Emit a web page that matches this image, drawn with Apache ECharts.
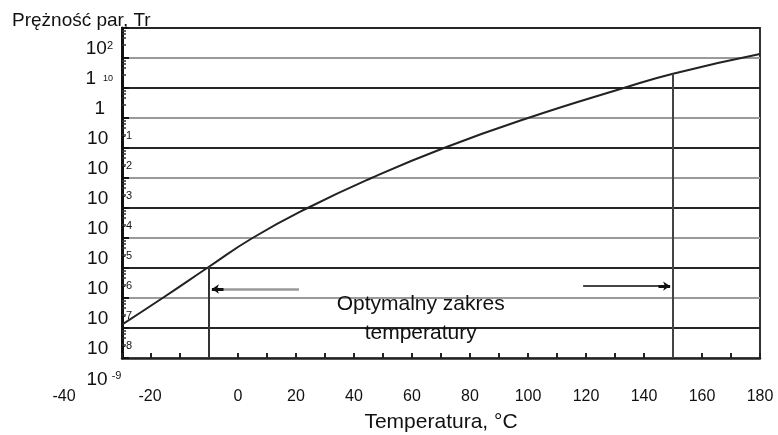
<!DOCTYPE html>
<html>
<head>
<meta charset="utf-8">
<script src="https://cdn.jsdelivr.net/npm/echarts@6/dist/echarts.min.js"></script>
<style>
  html, body { margin: 0; padding: 0; background: #fff; }
  #main { width: 778px; height: 435px; }
</style>
</head>
<body>
<div id="main"></div>
<script>
// krzywa prężności par
const temps = [-40, -26, -10, 5, 24, 46, 71, 100, 133, 150, 180]
const pressures = [1.3e-7, 1e-6, 1.1e-5, 1e-4, 1e-3, 1e-2, 1e-1, 1, 10, 30, 135]

// granice optymalnego zakresu (indeksy w temps)
const rangeIdx = [2, 9]

// strzałki zakresu: [od, do, poziom]
const arrowLeft = [21, -9, 2e-6]
const arrowRight = [119, 149, 2.5e-6]

const rangeText = 'Optymalny zakres\ntemperatury'
const rangeTextAt = [63, 2.1e-7]

// etykiety osi Y: wykładnik -> podstawa / indeks górny
const yExps = [-8, -7, -6, -5, -4, -3, -2, -1, 0, 1, 2]
const yBase = ['10', '10', '10', '10', '10', '10', '10', '10', '1', '1', '10']
const ySup = ['-8', '-7', '-6', '-5', '-4', '-3', '-2', '-1', '', '10', '2']
const yBottomLabel = ['10', '-9']

const xMin = -40
const xMax = 180
const yMin = 1e-8
const yMax = 1e3

const FONT = 'Liberation Sans'

function yLabel (v) {
  const e = Math.round(Math.log10(v))
  const i = yExps.indexOf(e)
  if (i < 0) return ''
  const b = yBase[i]
  const s = ySup[i]
  if (e === 0) return '{b|' + b + '}{t27|}'
  if (e === 1) return '{b|' + b + '}{g7|}{s2|' + s + '}{t19|}'
  if (e === 2) return '{b|' + b + '}{s|' + s + '}{t19|}'
  return '{b|' + b + '}{g14|}{s|' + s + '}'
}

function xLabel (v) {
  // dwie pierwsze etykiety są przesunięte w lewo jak w oryginale
  if (v === -40) return '{sh58|' + v + '}'
  if (v === -20) return '{sh30|' + v + '}'
  return '{n|' + v + '}'
}

const curve = temps.map((t, i) => [t, pressures[i]])

const option = {
  animation: false,
  textStyle: { fontFamily: FONT },
  title: {
    text: 'Prężność par, Tr',
    left: 7,
    top: 6,
    textStyle: { fontFamily: FONT, fontSize: 19, fontWeight: 'normal', color: '#111' }
  },
  grid: {
    left: 122,
    right: 18,
    top: 28,
    bottom: 77,
    outerBoundsMode: 'none',
    show: true,
    borderColor: '#333',
    borderWidth: 2,
    backgroundColor: 'transparent'
  },
  xAxis: {
    type: 'value',
    min: xMin,
    max: xMax,
    interval: 20,
    name: 'Temperatura, °C',
    nameLocation: 'middle',
    nameGap: 54,
    nameTextStyle: { fontFamily: FONT, fontSize: 21, color: '#111' },
    axisLine: { lineStyle: { color: '#222', width: 2.5 } },
    axisTick: { inside: true, length: 5, lineStyle: { color: '#222', width: 2 } },
    minorTick: { show: true, splitNumber: 2, length: 5, lineStyle: { color: '#222', width: 2 } },
    splitLine: { show: false },
    axisLabel: {
      margin: 31,
      color: '#111',
      formatter: xLabel,
      rich: {
        n: { fontFamily: FONT, fontSize: 16, color: '#111' },
        sh58: { fontFamily: FONT, fontSize: 16, color: '#111', padding: [0, 116, 0, 0] },
        sh30: { fontFamily: FONT, fontSize: 16, color: '#111', padding: [0, 60, 0, 0] }
      }
    }
  },
  yAxis: {
    type: 'log',
    logBase: 10,
    min: yMin,
    max: yMax,
    interval: 1,
    name: '{b|' + yBottomLabel[0] + '}{g4|}{s|' + yBottomLabel[1] + '}{t36|}',
    nameLocation: 'start',
    nameGap: 12,
    nameMoveOverlap: false,
    nameTextStyle: {
      verticalAlign: 'top',
      rich: {
        b: { fontFamily: FONT, fontSize: 19, color: '#111', lineHeight: 20 },
        s: { fontFamily: FONT, fontSize: 11, color: '#111', verticalAlign: 'top', lineHeight: 20 },
        g4: { width: 4 },
        t36: { width: 36 }
      }
    },
    axisLine: { show: true, onZero: false, lineStyle: { color: '#111', width: 3 } },
    axisTick: { show: true, inside: true, length: 7, lineStyle: { color: '#111', width: 2 } },
    minorTick: { show: true, splitNumber: 5, length: 4, lineStyle: { color: '#333', width: 1.5 } },
    splitLine: {
      show: true,
      lineStyle: { color: ['#9a9a9a', '#262626'], width: 2 }
    },
    axisLabel: {
      margin: -10,
      align: 'right',
      verticalAlign: 'bottom',
      formatter: yLabel,
      rich: {
        b: { fontFamily: FONT, fontSize: 19, color: '#111', lineHeight: 18 },
        s: { fontFamily: FONT, fontSize: 11, color: '#111', verticalAlign: 'top', lineHeight: 18 },
        s2: { fontFamily: FONT, fontSize: 9, color: '#111', verticalAlign: 'middle', lineHeight: 18 },
        g14: { width: 14 },
        g7: { width: 7 },
        t19: { width: 19 },
        t27: { width: 27 }
      }
    }
  },
  series: [
    {
      type: 'line',
      data: curve,
      smooth: 0.5,
      showSymbol: false,
      lineStyle: { color: '#222', width: 2 },
      markLine: {
        silent: true,
        symbol: ['none', 'none'],
        label: { show: false },
        data: [
          // pionowe granice zakresu
          [
            { coord: [temps[rangeIdx[0]], yMin], lineStyle: { color: '#333', width: 2, type: 'solid' } },
            { coord: [temps[rangeIdx[0]], pressures[rangeIdx[0]]] }
          ],
          [
            { coord: [temps[rangeIdx[1]], yMin], lineStyle: { color: '#444', width: 2, type: 'solid' } },
            { coord: [temps[rangeIdx[1]], pressures[rangeIdx[1]]] }
          ],
          // strzałki
          [
            { coord: [arrowLeft[0], arrowLeft[2]], lineStyle: { color: '#999', width: 2.5, type: 'solid' } },
            { coord: [arrowLeft[1], arrowLeft[2]] }
          ],
          [
            { coord: [arrowLeft[1] + 4, arrowLeft[2]], lineStyle: { color: '#111', width: 3, type: 'solid' } },
            { coord: [arrowLeft[1], arrowLeft[2]], symbol: 'arrow', symbolSize: [7, 7] }
          ],
          [
            { coord: [arrowRight[0], arrowRight[2]], lineStyle: { color: '#444', width: 2, type: 'solid' } },
            { coord: [arrowRight[1], arrowRight[2]] }
          ],
          [
            { coord: [arrowRight[1] - 4, arrowRight[2]], lineStyle: { color: '#111', width: 3, type: 'solid' } },
            { coord: [arrowRight[1], arrowRight[2]], symbol: 'arrow', symbolSize: [7, 7] }
          ]
        ]
      },
      markPoint: {
        silent: true,
        symbol: 'circle',
        symbolSize: 0,
        data: [
          {
            coord: rangeTextAt,
            label: {
              show: true,
              position: 'inside',
              formatter: rangeText,
              fontFamily: FONT,
              fontSize: 21,
              lineHeight: 29,
              color: '#111',
              align: 'center'
            }
          }
        ]
      }
    }
  ]
}

const myChart = echarts.init(document.getElementById('main'))
myChart.setOption(option)
</script>
</body>
</html>
